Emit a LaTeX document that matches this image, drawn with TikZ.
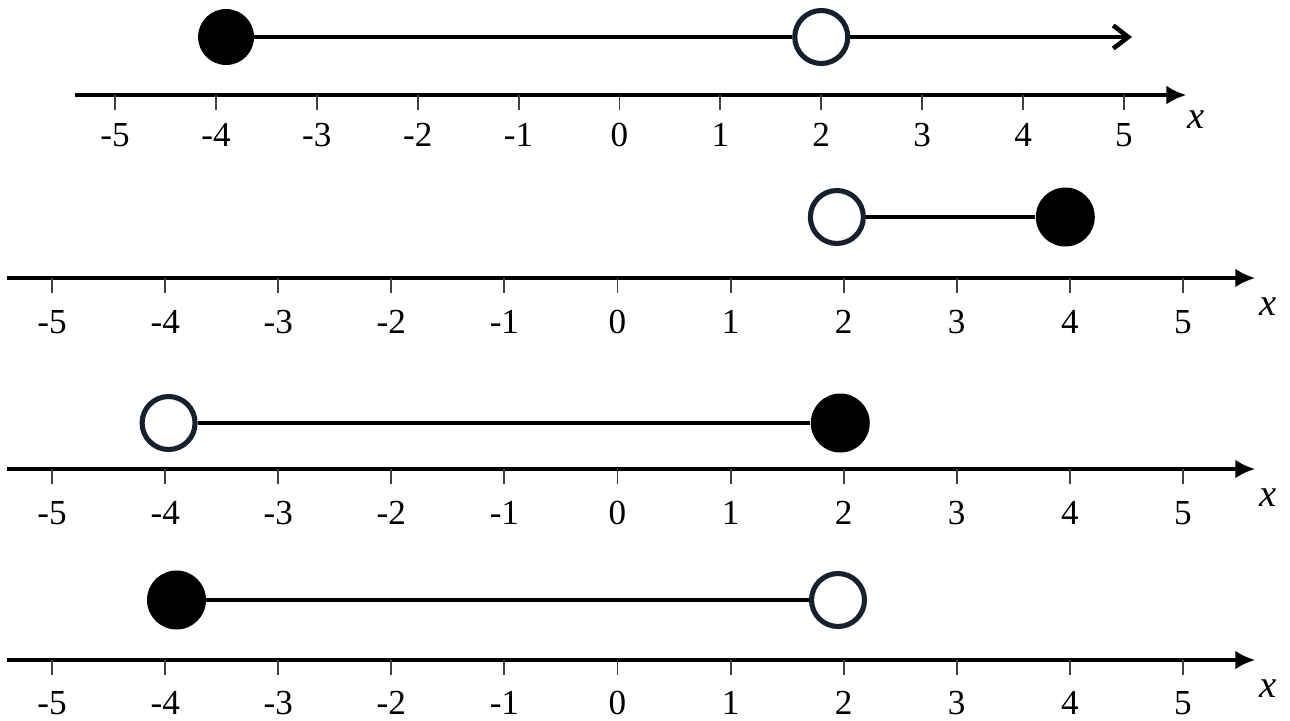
\documentclass[tikz,border=0pt]{standalone}
\usepackage{fontspec}
\setmainfont{Liberation Serif}
\newfontfamily\numfont{Liberation Serif}
\usepackage{xcolor}
\usepackage{tikz}
\usetikzlibrary{arrows.meta}

\definecolor{ringc}{RGB}{22,32,46}

\begin{document}
\begin{tikzpicture}[x=0.02cm, y=-0.02cm,
    axis/.style={line width=2.3pt, -{Latex[length=0.4cm, width=0.38cm]}},
    tick/.style={line width=1.1pt, black!75},
    num/.style={font=\numfont\fontsize{20}{24}\selectfont, inner sep=0pt},
    xlab/.style={font=\numfont\fontsize{22}{26}\selectfont\itshape, inner sep=0pt},
    seg/.style={line width=2.6pt},
    dot/.style={circle, fill=black, inner sep=0pt, minimum size=1.18cm},
    ring/.style={circle, draw=ringc, line width=2.9pt, fill=white, inner sep=0pt, minimum size=1.06cm}]
    \useasboundingbox (0,0) rectangle (1290,720);

    % Trục số thứ nhất
    \begin{scope}[shift={(619.5,95)}, x=2.018cm]
        \coordinate (s1) at (-5.4,0);
        \coordinate (t1) at (5.62,0);
        \draw[axis] (s1) -- (t1);
        \foreach \i [count=\k] in {-5,...,5} {
            \draw[tick] (\i,0) -- (\i,15);
            \node[num] (a\k) at (\i,40) {\i};
        }
        \node[xlab] (x1) at (5.72,25) {x};
        % Tập nghiệm
        \node[ring] (q1) at (2,-58) {};
        \node[dot, minimum size=1.12cm] (p1) at (-3.9,-58) {};
        \coordinate (e1) at (5.08,-58);
        \draw[seg] (p1) -- (q1);
        \draw[seg, -{Straight Barb[length=0.3cm, width=0.46cm]}] (q1) -- (e1);
    \end{scope}

    % Trục số thứ hai
    \begin{scope}[shift={(617.5,278)}, x=2.262cm]
        \coordinate (s2) at (-5.4,0);
        \coordinate (t2) at (5.64,0);
        \draw[axis] (s2) -- (t2);
        \foreach \i [count=\k] in {-5,...,5} {
            \draw[tick] (\i,0) -- (\i,15);
            \node[num] (b\k) at (\i,44) {\i};
        }
        \node[xlab] (x2) at (5.75,29) {x};
        % Tập nghiệm
        \node[ring] (q2) at (1.94,-61) {};
        \node[dot] (p2) at (3.96,-61) {};
        \draw[seg] (q2) -- (p2);
    \end{scope}

    % Trục số thứ ba
    \begin{scope}[shift={(617.5,469)}, x=2.262cm]
        \coordinate (s3) at (-5.4,0);
        \coordinate (t3) at (5.64,0);
        \draw[axis] (s3) -- (t3);
        \foreach \i [count=\k] in {-5,...,5} {
            \draw[tick] (\i,0) -- (\i,15);
            \node[num] (c\k) at (\i,44) {\i};
        }
        \node[xlab] (x3) at (5.75,29) {x};
        % Tập nghiệm
        \node[ring] (q3) at (-3.97,-46) {};
        \node[dot] (p3) at (1.97,-46) {};
        \draw[seg] (q3) -- (p3);
    \end{scope}

    % Trục số thứ tư
    \begin{scope}[shift={(617.5,660)}, x=2.262cm]
        \coordinate (s4) at (-5.4,0);
        \coordinate (t4) at (5.64,0);
        \draw[axis] (s4) -- (t4);
        \foreach \i [count=\k] in {-5,...,5} {
            \draw[tick] (\i,0) -- (\i,15);
            \node[num] (d\k) at (\i,43) {\i};
        }
        \node[xlab] (x4) at (5.75,29) {x};
        % Tập nghiệm
        \node[ring] (q4) at (1.95,-60) {};
        \node[dot] (p4) at (-3.9,-60) {};
        \draw[seg] (p4) -- (q4);
    \end{scope}
\end{tikzpicture}
\end{document}
